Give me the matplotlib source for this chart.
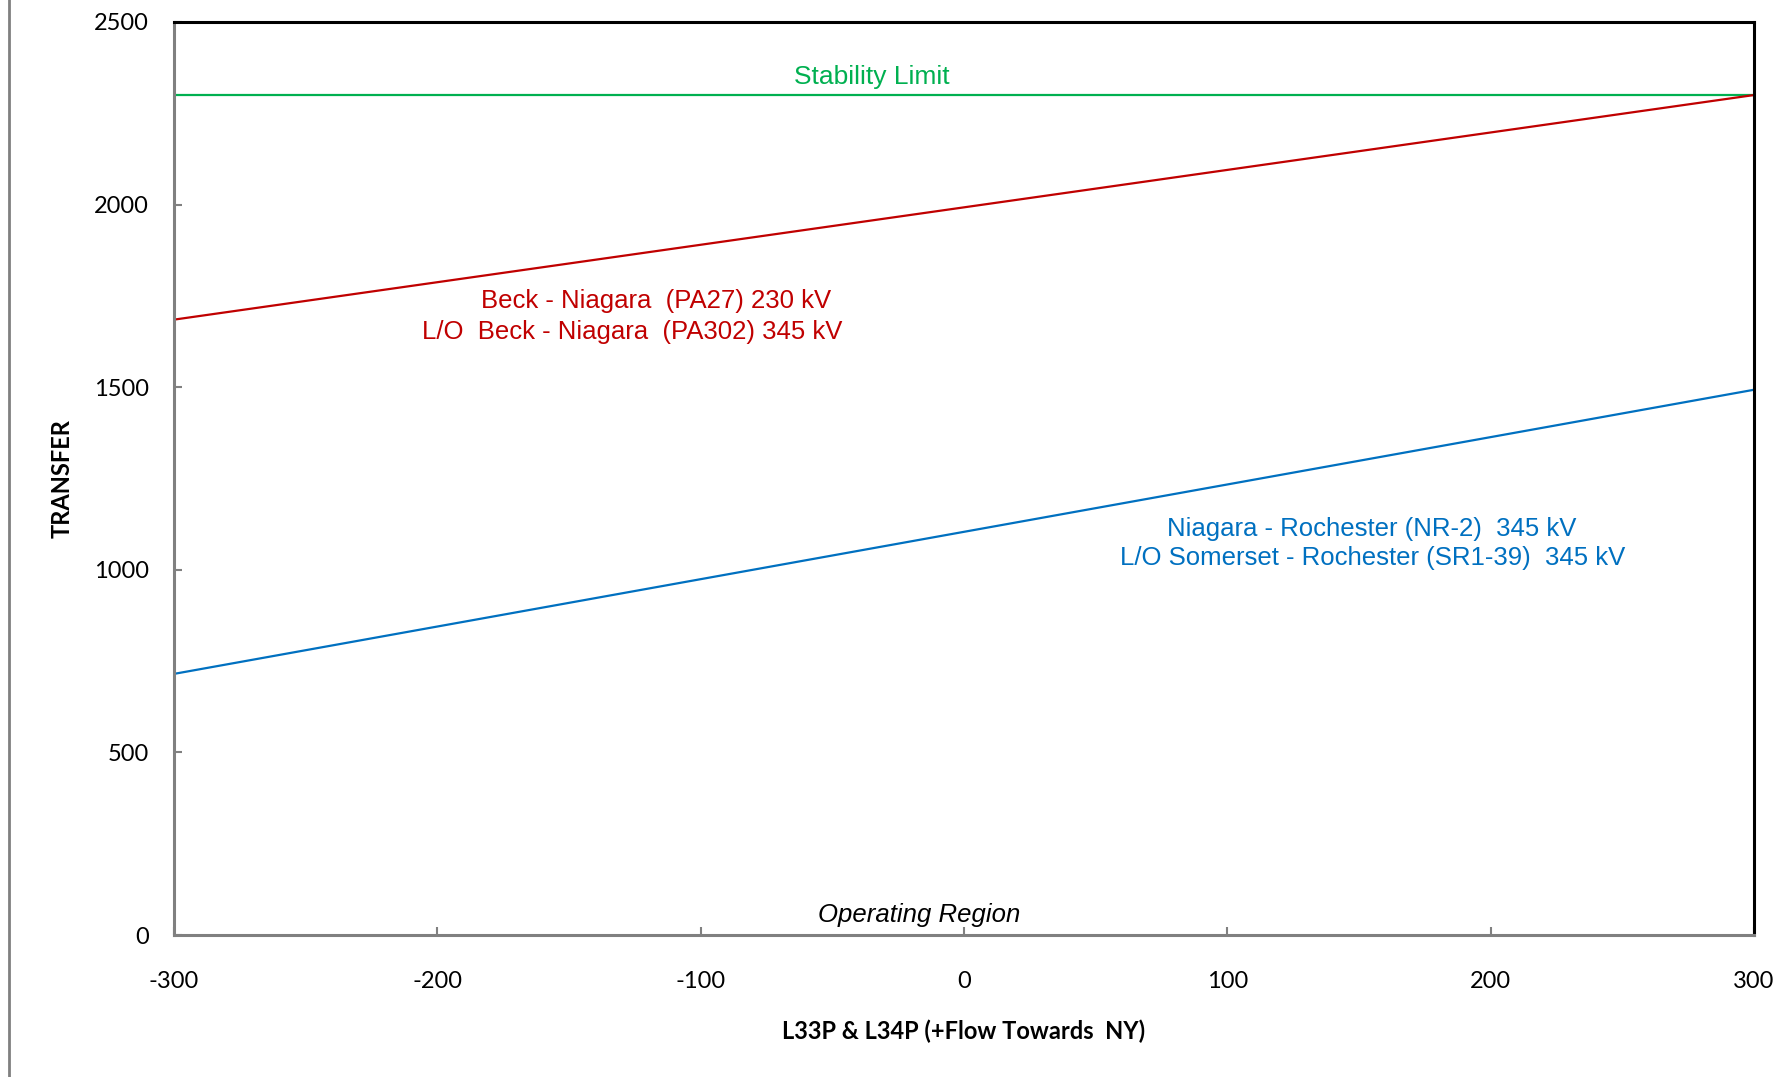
import matplotlib
matplotlib.use("Agg")
import matplotlib.pyplot as plt
from matplotlib.lines import Line2D

# Data
x_range = [-300, 300]
beck_niagara = [1685, 2300]
niagara_rochester = [715, 1493]
stability_limit = [2300, 2300]
x_ticks = [-300, -200, -100, 0, 100, 200, 300]
y_ticks = [0, 500, 1000, 1500, 2000, 2500]

RED = "#C00000"
BLUE = "#0070C0"
GREEN = "#00B050"
GRAY = "#808080"

fig = plt.figure(figsize=(17.81, 10.77), dpi=100)
ax = fig.add_axes([174/1781, 1 - 935/1077, (1754-174)/1781, (935-22)/1077])

ax.plot(x_range, stability_limit, color=GREEN, lw=1.6, solid_capstyle="butt")
ax.plot(x_range, beck_niagara, color=RED, lw=1.6, solid_capstyle="butt")
ax.plot(x_range, niagara_rochester, color=BLUE, lw=1.6, solid_capstyle="butt")

ax.set_xlim(-300, 300)
ax.set_ylim(0, 2500)
ax.set_xticks(x_ticks)
ax.set_yticks(y_ticks)
ax.set_xticklabels([str(v) for v in x_ticks], fontfamily="Lato", fontsize=17)
ax.set_yticklabels([str(v) for v in y_ticks], fontfamily="Lato", fontsize=17)
ax.tick_params(axis="both", direction="in", length=6, width=1.5, color=GRAY)
ax.tick_params(axis="y", pad=18)
ax.tick_params(axis="x", pad=26)

for s in ["left", "bottom"]:
    ax.spines[s].set_color(GRAY)
    ax.spines[s].set_linewidth(2.2)
for s in ["top", "right"]:
    ax.spines[s].set_color("black")
    ax.spines[s].set_linewidth(2.2)

ax.set_xlabel("L33P & L34P (+Flow Towards  NY)", fontfamily="Lato", fontweight="bold", fontsize=17)
ax.xaxis.set_label_coords(0.5, -(1031 - 935) / 913)
ax.xaxis.label.set_va("center")
ax.set_ylabel("TRANSFER", fontfamily="Lato", fontweight="bold", fontsize=17)
ax.yaxis.set_label_coords(-(174 - 62) / 1580, 0.5)
ax.yaxis.label.set_va("center")

ax.text(-35, 2316, "Stability Limit", color=GREEN, fontfamily="Liberation Sans",
        fontsize=19, ha="center", va="bottom")
ax.text(-117, 1735, "Beck - Niagara  (PA27) 230 kV",
        color=RED, fontfamily="Liberation Sans", fontsize=18.5, ha="center", va="center")
ax.text(-126, 1652, "L/O  Beck - Niagara  (PA302) 345 kV",
        color=RED, fontfamily="Liberation Sans", fontsize=18.5, ha="center", va="center")
ax.text(155, 1071, "Niagara - Rochester (NR-2)  345 kV\nL/O Somerset - Rochester (SR1-39)  345 kV",
        color=BLUE, fontfamily="Liberation Sans", fontsize=18.5, ha="center", va="center",
        multialignment="center", linespacing=1.25)
ax.text(-17, 56, "Operating Region", color="black", fontfamily="Liberation Sans",
        fontsize=18.5, style="italic", ha="center", va="center")

fig.add_artist(Line2D([9/1781, 9/1781], [0, 1], transform=fig.transFigure,
                      color=GRAY, lw=2))

fig.savefig("out.png", dpi=100)
